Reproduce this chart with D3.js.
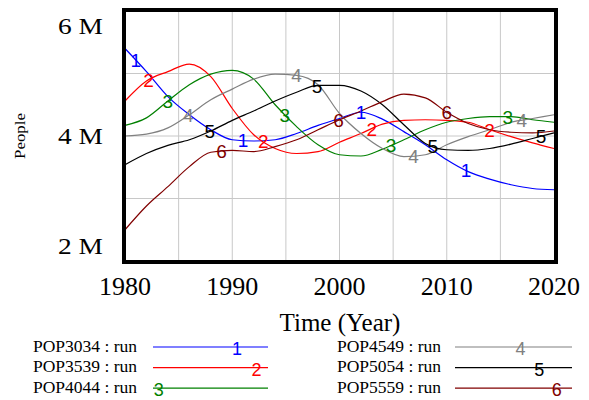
<!DOCTYPE html>
<html>
<head>
<meta charset="utf-8">
<script src="https://cdn.jsdelivr.net/npm/d3@7"></script>
<style>
  body { margin: 0; background: #fff; }
  svg { display: block; }
</style>
</head>
<body>
<div id="chart"></div>
<script>
// values in millions of people
const years = [1980, 1982, 1984, 1986, 1988, 1990, 1992, 1994, 1996, 1998, 2000,
               2002, 2004, 2006, 2008, 2010, 2012, 2014, 2016, 2018, 2020];
const pop3034 = [5.40, 5.03, 4.63, 4.34, 4.10, 3.94, 3.92, 3.94, 4.04, 4.17, 4.28,
                 4.38, 4.27, 4.07, 3.86, 3.62, 3.43, 3.31, 3.22, 3.16, 3.14];
const pop3539 = [4.56, 4.88, 5.03, 5.15, 4.95, 4.44, 4.02, 3.80, 3.72, 3.75, 3.90,
                 4.04, 4.19, 4.25, 4.26, 4.25, 4.22, 4.10, 3.99, 3.89, 3.80];
const pop4044 = [4.17, 4.29, 4.56, 4.82, 4.99, 5.05, 4.91, 4.50, 4.15, 3.86, 3.70,
                 3.68, 3.79, 3.94, 4.10, 4.22, 4.28, 4.31, 4.31, 4.26, 4.22];
const pop4549 = [4.00, 4.03, 4.13, 4.34, 4.58, 4.75, 4.91, 4.99, 4.97, 4.82, 4.36,
                 4.04, 3.80, 3.67, 3.70, 3.86, 3.99, 4.10, 4.22, 4.28, 4.34];
const pop5054 = [3.54, 3.72, 3.85, 3.94, 4.08, 4.25, 4.40, 4.56, 4.70, 4.81, 4.81,
                 4.72, 4.50, 4.18, 3.88, 3.78, 3.77, 3.80, 3.87, 3.96, 4.05];
const pop5559 = [2.50, 2.88, 3.19, 3.51, 3.74, 3.77, 3.75, 3.83, 3.94, 4.10, 4.26,
                 4.40, 4.55, 4.67, 4.61, 4.38, 4.20, 4.10, 4.06, 4.05, 4.08];

const seriesNames = ["POP3034 : run", "POP3539 : run", "POP4044 : run",
                     "POP4549 : run", "POP5054 : run", "POP5559 : run"];
const seriesColors = ["#0000ff", "#ff0000", "#008000", "#808080", "#000000", "#800000"];
// where the number markers sit along each line (years)
const markerYears = [
  [1981, 1991, 2002, 2011.8],
  [1982.2, 1992.9, 2003, 2014],
  [1984, 1994.9, 2004.8, 2015.7],
  [1985.9, 1996, 2006.9, 2017],
  [1987.9, 1997.9, 2008.7, 2018.8],
  [1989, 1999.9, 2010]
];
// marker position along each legend swatch (0..1)
const legendMarkerAt = [0.73, 0.9, 0.05, 0.56, 0.72, 0.87];

const xTicks = [1980, 1990, 2000, 2010, 2020];
const xGrid = [1985, 1990, 1995, 2000, 2005, 2010, 2015];
const yTicks = [2, 4, 6];
const yTickLabels = ["2 M", "4 M", "6 M"];
const yGrid = [3, 4, 5];

const allSeries = [pop3034, pop3539, pop4044, pop4549, pop5054, pop5559];

const W = 589, H = 400;
const serif = "'Liberation Serif', 'Times New Roman', serif";
const sans = "'Liberation Sans', Arial, sans-serif";

const svg = d3.select("#chart").append("svg")
    .attr("width", W).attr("height", H);

const x = d3.scaleLinear().domain([1980, 2020]).range([125, 554]);
const y = d3.scaleLinear().domain([2, 6]).range([261, 11]);

// grid
const grid = svg.append("g").attr("stroke", "#c8c8c8").attr("stroke-width", 1);
grid.selectAll(".gx").data(xGrid).enter().append("line")
    .attr("x1", d => x(d)).attr("x2", d => x(d))
    .attr("y1", 10).attr("y2", 262);
grid.selectAll(".gy").data(yGrid).enter().append("line")
    .attr("x1", 124).attr("x2", 556)
    .attr("y1", d => y(d)).attr("y2", d => y(d));

// lines
const line = d3.line()
    .x((d, i) => x(years[i]))
    .y(d => y(d))
    .curve(d3.curveMonotoneX);

svg.append("g").selectAll("path").data(allSeries).enter().append("path")
    .attr("d", d => line(d))
    .attr("fill", "none")
    .attr("stroke", (d, i) => seriesColors[i])
    .attr("stroke-width", 1.2);

function valueAt(vals, t) {
  const i = Math.min(d3.bisectRight(years, t) - 1, years.length - 2);
  const f = (t - years[i]) / (years[i + 1] - years[i]);
  return vals[i] + f * (vals[i + 1] - vals[i]);
}

// number markers on the lines
allSeries.forEach((vals, si) => {
  svg.append("g").selectAll("text").data(markerYears[si]).enter().append("text")
      .attr("x", d => x(d))
      .attr("y", d => y(valueAt(vals, d)) + 7)
      .attr("text-anchor", "middle")
      .attr("font-family", sans)
      .attr("font-size", 19)
      .attr("fill", seriesColors[si])
      .text(si + 1);
});

// frame
svg.append("rect")
    .attr("x", 124).attr("y", 10).attr("width", 432).attr("height", 252)
    .attr("fill", "none").attr("stroke", "#000").attr("stroke-width", 4);

// y tick labels
svg.append("g").selectAll("text").data(yTicks).enter().append("text")
    .attr("x", 103)
    .attr("y", d => Math.max(33.5, Math.min(254, y(d) + 8)))
    .attr("text-anchor", "end")
    .attr("font-family", serif)
    .attr("font-size", 23)
    .attr("textLength", 45)
    .attr("lengthAdjust", "spacingAndGlyphs")
    .text((d, i) => yTickLabels[i]);

// x tick labels
svg.append("g").selectAll("text").data(xTicks).enter().append("text")
    .attr("x", d => x(d))
    .attr("y", 295)
    .attr("text-anchor", "middle")
    .attr("font-family", serif)
    .attr("font-size", 26)
    .text(d => d);

// axis titles
svg.append("text")
    .attr("x", 340).attr("y", 331)
    .attr("text-anchor", "middle")
    .attr("font-family", serif)
    .attr("font-size", 25)
    .text("Time (Year)");

svg.append("text")
    .attr("transform", "translate(25,136) rotate(-90)")
    .attr("text-anchor", "middle")
    .attr("font-family", serif)
    .attr("font-size", 14)
    .attr("textLength", 46)
    .attr("lengthAdjust", "spacingAndGlyphs")
    .text("People");

// legend
const legend = svg.append("g");
seriesNames.forEach((name, i) => {
  const col = Math.floor(i / 3), row = i % 3;
  const tx = col ? 337 : 33;
  const lx0 = col ? 455 : 153, lx1 = col ? 572 : 268;
  const ly = 347 + row * 20.6;
  legend.append("text")
      .attr("x", tx).attr("y", ly + 4.5)
      .attr("font-family", serif)
      .attr("font-size", 16)
      .attr("textLength", 104)
      .attr("lengthAdjust", "spacingAndGlyphs")
      .text(name);
  legend.append("line")
      .attr("x1", lx0).attr("x2", lx1)
      .attr("y1", ly).attr("y2", ly)
      .attr("stroke", seriesColors[i]).attr("stroke-width", 1.2);
  legend.append("text")
      .attr("x", lx0 + legendMarkerAt[i] * (lx1 - lx0))
      .attr("y", ly + 8)
      .attr("text-anchor", "middle")
      .attr("font-family", sans)
      .attr("font-size", 18)
      .attr("fill", seriesColors[i])
      .text(i + 1);
});
</script>
</body>
</html>
